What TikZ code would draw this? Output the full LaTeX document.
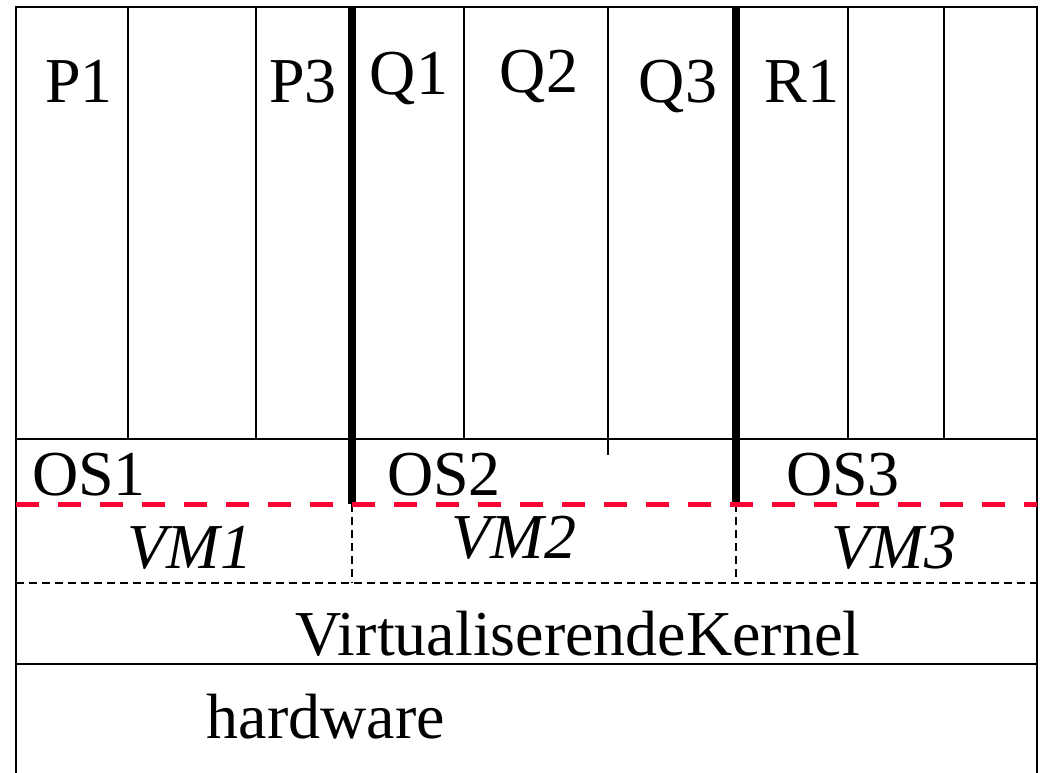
\documentclass[tikz,border=0pt]{standalone}
\usepackage{fontspec}
\setmainfont{Liberation Serif}
\definecolor{vmred}{RGB}{255,0,51}
\begin{document}
\begin{tikzpicture}[x=1pt,y=-1pt,
  lbl/.style={anchor=base, inner sep=0pt, font=\fontsize{64}{72}\selectfont},
  vmlbl/.style={anchor=base, inner sep=0pt, font=\fontsize{64}{72}\selectfont\itshape},
  cell/.style={line width=2.2pt},
  vmwall/.style={line width=8pt},
  vmbox/.style={line width=2pt, dash pattern=on 8pt off 5pt},
  vmcut/.style={line width=5pt, color=vmred, dash pattern=on 23pt off 19pt}]
\useasboundingbox (0,0) rectangle (1042,773);
% frame and layers
\draw[cell] (16,773) -- (16,7) -- (1037,7) -- (1037,773);
\draw[cell] (16,439) -- (1037,439);
\draw[cell] (16,664) -- (1037,664);
% processes
\foreach \x in {128,256,464,848,944}
  \draw[cell] (\x,7) -- (\x,439);
\draw[cell] (608,7) -- (608,455);
% virtual machines
\draw[vmwall] (352,7) -- (352,504);
\draw[vmwall] (736,7) -- (736,504);
\draw[vmbox] (16,583) -- (1037,583);
\draw[vmbox] (352,504) -- (352,583);
\draw[vmbox] (736,504) -- (736,583);
\draw[vmcut] (16,504) -- (1037,504);
% labels
\node[lbl] (p1) at (79,103) {P1};
\node[lbl] (p3) at (303,103) {P3};
\node[lbl] (q1) at (409,95) {Q1};
\node[lbl] (q2) at (539,93) {Q2};
\node[lbl] (q3) at (678,103) {Q3};
\node[lbl] (r1) at (802,103) {R1};
\node[lbl] (os1) at (89,495) {OS1};
\node[lbl] (os2) at (444,495) {OS2};
\node[lbl] (os3) at (843,495) {OS3};
\node[vmlbl] (vm1) at (190,568) {VM1};
\node[vmlbl] (vm2) at (514,558) {VM2};
\node[vmlbl] (vm3) at (894,568) {VM3};
\node[lbl] (kernel) at (578,655) {VirtualiserendeKernel};
\node[lbl] (hw) at (326,738) {hardware};
\end{tikzpicture}
\end{document}
